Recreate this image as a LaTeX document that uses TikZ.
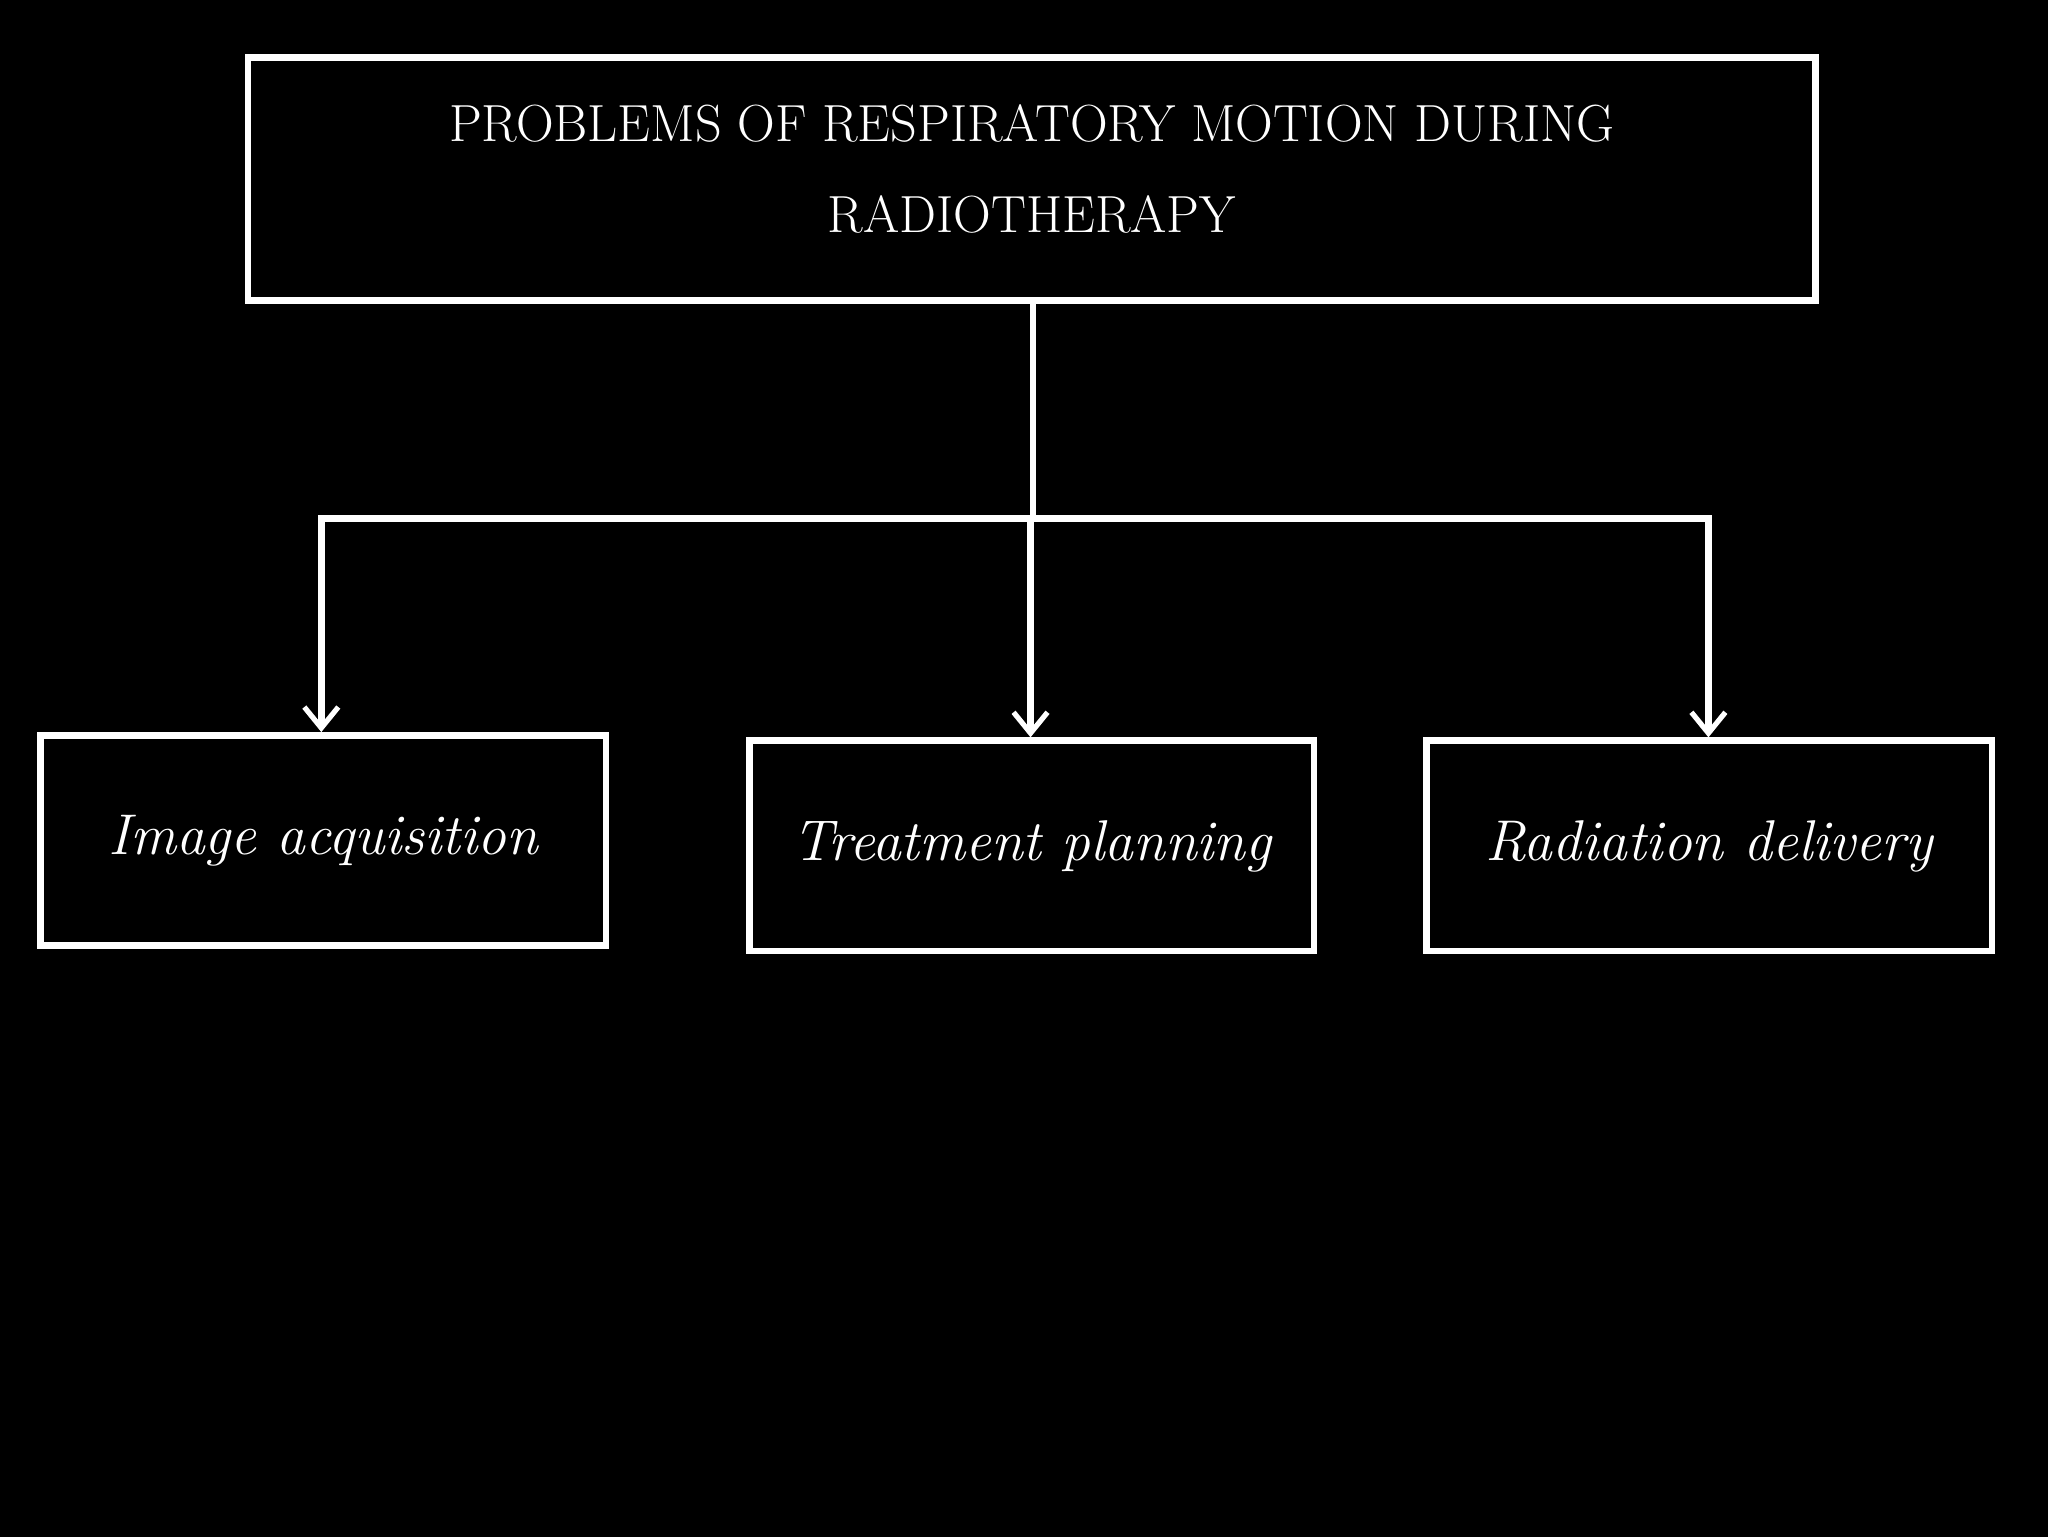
\documentclass[tikz,border=0pt]{standalone}
\usepackage{fontspec}
\setmainfont{Latin Modern Roman}
\usetikzlibrary{arrows.meta}
\newcommand{\lowerit}[2]{\setbox0\hbox{#2}\raisebox{-#1}[\ht0][\dp0]{\box0}}
\begin{document}
\begin{tikzpicture}[x=1pt,y=-1pt,
  box/.style={draw=white,line width=5pt,fill=black,text=white,inner sep=0pt},
  conn/.style={draw=white,line width=5pt},
  arr/.style={conn,-{Straight Barb[length=16pt,width=26pt,line width=4pt]}}]
\useasboundingbox (0,0) rectangle (1568,1176);
\fill[black] (-5,-5) rectangle (1573,1181);
\node[box,minimum width=1200pt,minimum height=186pt,align=center,font=\fontsize{40}{70}\selectfont] (top) at (790,137) {\lowerit{6pt}{PROBLEMS OF RESPIRATORY MOTION DURING}\\\lowerit{6pt}{RADIOTHERAPY}};
\node[box,minimum width=433pt,minimum height=161pt,font=\itshape\fontsize{44}{50}\selectfont] (a) at (247.5,643.5) {\lowerit{11pt}{Image acquisition}};
\node[box,minimum width=432pt,minimum height=161pt,font=\itshape\fontsize{44}{50}\selectfont] (b) at (790,647.5) {\lowerit{11pt}{Treatment planning}};
\node[box,minimum width=433pt,minimum height=161pt,font=\itshape\fontsize{44}{50}\selectfont] (c) at (1308.5,647.5) {\lowerit{11pt}{Radiation delivery}};
\coordinate (j) at (791,397);
\draw[conn] (top.south -| j) -- (j);
\draw[arr] (j) -- (246,397) -- (a.north -| 246,0);
\draw[arr] (j) -- (1308,397) -- (c.north -| 1308,0);
\draw[arr] (789,397) -- (b.north -| 789,0);
\end{tikzpicture}
\end{document}
